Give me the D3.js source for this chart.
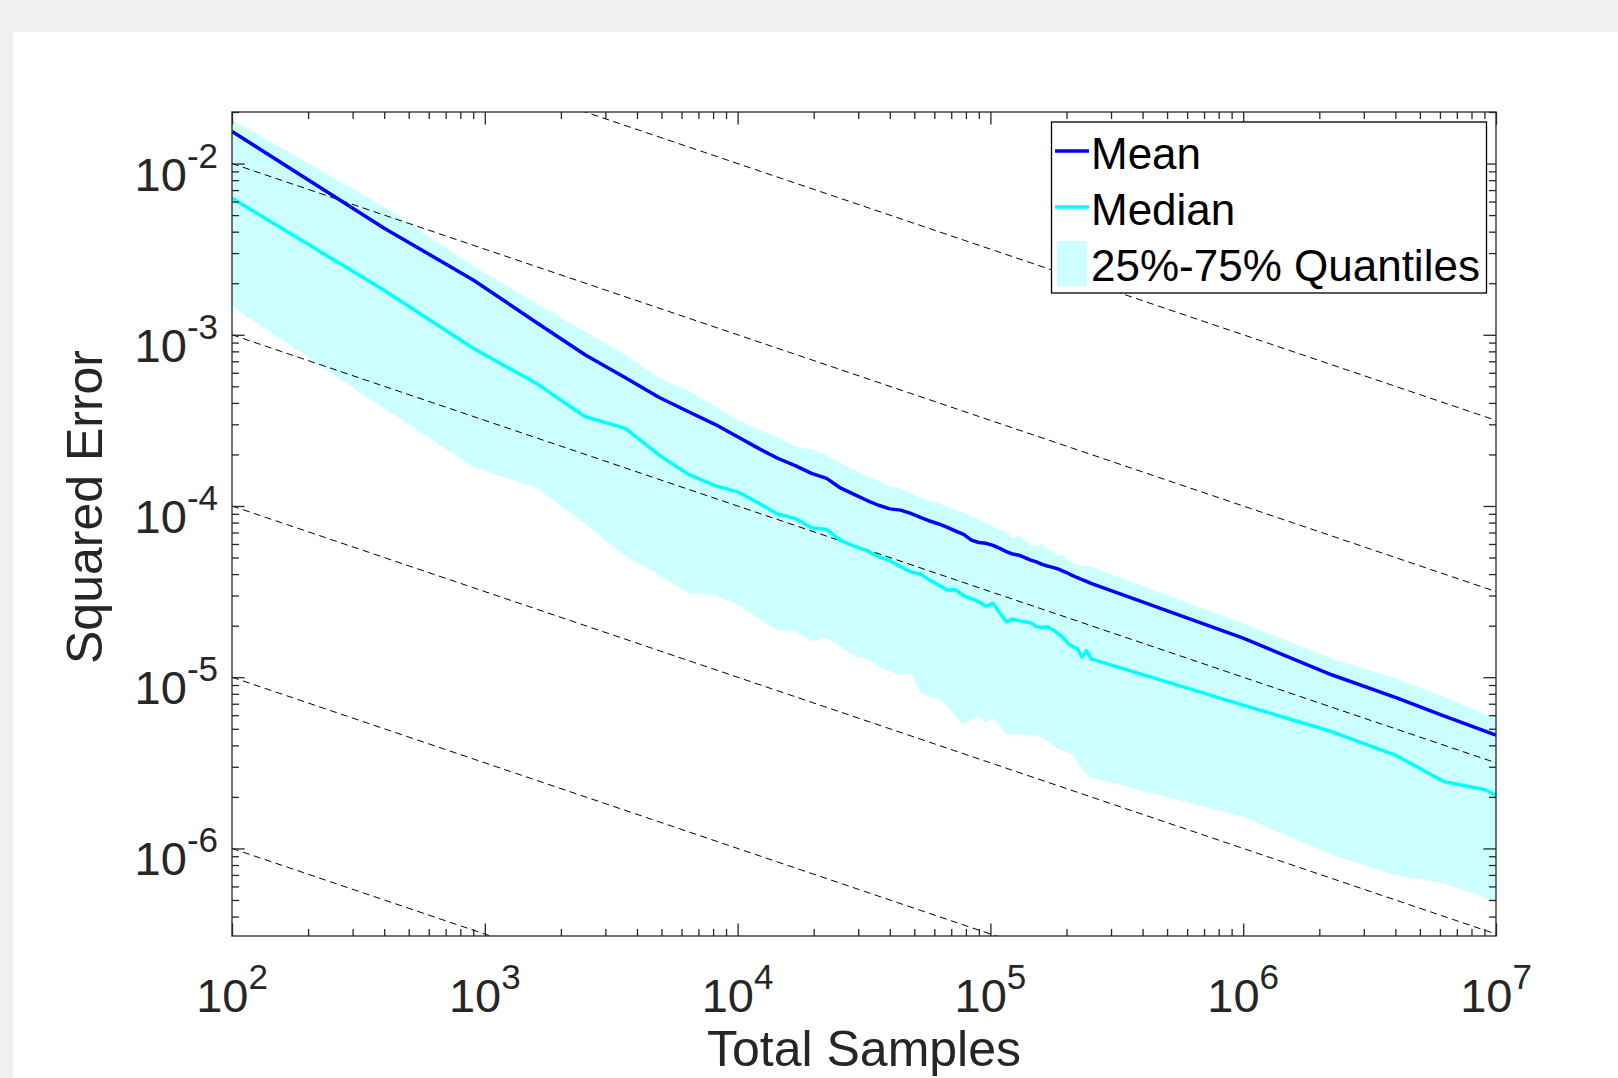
<!DOCTYPE html>
<html>
<head>
<meta charset="utf-8">
<script src="https://cdn.jsdelivr.net/npm/d3@7"></script>
<style>
  html, body { margin: 0; padding: 0; background: #f0f0f0; }
  svg { display: block; }
  text { font-family: "Liberation Sans", Arial, Helvetica, sans-serif; }
</style>
</head>
<body>
<svg id="chart" width="1618" height="1078"></svg>
<script>
// total samples (x) and squared-error statistics
var samples = [100, 400, 900, 1600, 2500, 3600, 4900, 6400, 8100, 10000,
  12100, 14400, 16900, 19600, 22500, 25600, 28900, 32400, 36100, 40000,
  44100, 48400, 52900, 57600, 62500, 67600, 72900, 78400, 84100, 90000,
  96100, 102400, 108900, 115600, 122500, 129600, 136900, 144400, 152100, 160000,
  168100, 176400, 184900, 193600, 202500, 211600, 220900, 230400, 240100, 250000,
  1000000, 2250000, 4000000, 6250000, 9000000, 10000000];

var meanErr = [1.54e-2, 4.19e-3, 2.09e-3, 1.18e-3, 7.62e-4, 5.61e-4, 4.30e-4, 3.55e-4, 3.01e-4, 2.54e-4,
  2.17e-4, 1.90e-4, 1.72e-4, 1.55e-4, 1.45e-4, 1.27e-4, 1.17e-4, 1.08e-4, 1.01e-4, 9.62e-5,
  9.46e-5, 9.06e-5, 8.59e-5, 8.17e-5, 7.85e-5, 7.50e-5, 7.14e-5, 6.82e-5, 6.32e-5, 6.12e-5,
  6.05e-5, 5.89e-5, 5.66e-5, 5.41e-5, 5.24e-5, 5.16e-5, 4.99e-5, 4.83e-5, 4.72e-5, 4.56e-5,
  4.46e-5, 4.38e-5, 4.29e-5, 4.17e-5, 4.05e-5, 3.92e-5, 3.81e-5, 3.72e-5, 3.63e-5, 3.53e-5,
  1.69e-5, 1.03e-5, 7.62e-6, 5.93e-6, 4.86e-6, 4.59e-6];

var medianErr = [6.27e-3, 1.82e-3, 8.34e-4, 5.20e-4, 3.32e-4, 2.84e-4, 1.98e-4, 1.53e-4, 1.32e-4, 1.21e-4,
  1.04e-4, 8.97e-5, 8.47e-5, 7.46e-5, 7.29e-5, 6.27e-5, 5.83e-5, 5.48e-5, 5.06e-5, 4.79e-5,
  4.42e-5, 4.13e-5, 4.00e-5, 3.69e-5, 3.45e-5, 3.23e-5, 3.24e-5, 2.99e-5, 2.88e-5, 2.76e-5,
  2.60e-5, 2.70e-5, 2.38e-5, 2.11e-5, 2.18e-5, 2.14e-5, 2.11e-5, 2.08e-5, 1.97e-5, 1.95e-5,
  1.97e-5, 1.90e-5, 1.80e-5, 1.71e-5, 1.58e-5, 1.51e-5, 1.47e-5, 1.31e-5, 1.43e-5, 1.28e-5,
  6.87e-6, 4.80e-6, 3.51e-6, 2.45e-6, 2.21e-6, 2.05e-6];

var q75Err = [1.81e-2, 5.60e-3, 2.52e-3, 1.53e-3, 1.04e-3, 7.62e-4, 5.57e-4, 4.71e-4, 3.84e-4, 3.18e-4,
  2.81e-4, 2.52e-4, 2.22e-4, 2.14e-4, 1.98e-4, 1.77e-4, 1.62e-4, 1.50e-4, 1.40e-4, 1.29e-4,
  1.27e-4, 1.19e-4, 1.11e-4, 1.07e-4, 1.04e-4, 9.82e-5, 9.46e-5, 9.14e-5, 8.65e-5, 8.36e-5,
  7.98e-5, 7.57e-5, 7.23e-5, 7.08e-5, 6.47e-5, 6.76e-5, 6.32e-5, 5.92e-5, 5.78e-5, 6.05e-5,
  5.58e-5, 5.48e-5, 5.11e-5, 5.16e-5, 4.83e-5, 4.62e-5, 4.52e-5, 4.48e-5, 4.46e-5, 4.42e-5,
  2.06e-5, 1.28e-5, 9.84e-6, 7.69e-6, 6.10e-6, 5.93e-6];

var q25Err = [1.46e-3, 3.72e-4, 1.69e-4, 1.28e-4, 7.85e-5, 5.11e-5, 3.95e-5, 3.09e-5, 3.02e-5, 2.64e-5,
  2.21e-5, 1.88e-5, 1.86e-5, 1.61e-5, 1.70e-5, 1.51e-5, 1.32e-5, 1.29e-5, 1.15e-5, 1.08e-5,
  1.03e-5, 1.06e-5, 8.22e-6, 7.69e-6, 7.52e-6, 6.78e-6, 5.93e-6, 5.30e-6, 5.62e-6, 5.87e-6,
  5.42e-6, 5.75e-6, 5.25e-6, 4.66e-6, 4.66e-6, 4.66e-6, 4.59e-6, 4.59e-6, 4.53e-6, 4.46e-6,
  4.26e-6, 4.02e-6, 3.84e-6, 3.72e-6, 3.62e-6, 3.51e-6, 3.21e-6, 2.90e-6, 2.74e-6, 2.60e-6,
  1.53e-6, 9.14e-7, 6.98e-7, 6.25e-7, 5.18e-7, 4.78e-7];

// dashed guide lines: value at x = 100, slope in log-log
var guideAt100 = [1e-1, 1e-2, 1e-3, 1e-4, 1e-5, 1e-6];
var guideSlope = -0.5;

var xMajor = [1e2, 1e3, 1e4, 1e5, 1e6, 1e7];
var yMajor = [1e-6, 1e-5, 1e-4, 1e-3, 1e-2];
var legendLabels = ["Mean", "Median", "25%-75% Quantiles"];

var axisColor = "#262626",
    meanColor = "#0000ff",
    medianColor = "#00ffff",
    bandColor = "#ccffff";

var plot = {left: 232, right: 1496, top: 112, bottom: 936};

var svg = d3.select("#chart");

// white figure panel on grey window
svg.append("rect")
    .attr("x", 13).attr("y", 32)
    .attr("width", 1618 - 13).attr("height", 1078 - 32)
    .attr("fill", "#ffffff");

var x = d3.scaleLog().domain([1e2, 1e7]).range([plot.left, plot.right]);
var y = d3.scaleLog().domain([3.08e-7, 0.02]).range([plot.bottom, plot.top]);

svg.append("clipPath").attr("id", "clip")
  .append("rect")
    .attr("x", plot.left).attr("y", plot.top)
    .attr("width", plot.right - plot.left)
    .attr("height", plot.bottom - plot.top);

var data = samples.map(function(s, i) {
  return {s: s, mean: meanErr[i], median: medianErr[i], lo: q25Err[i], hi: q75Err[i]};
});

var inner = svg.append("g").attr("clip-path", "url(#clip)");

// quantile band
inner.append("path")
    .datum(data)
    .attr("fill", bandColor)
    .attr("d", d3.area()
      .x(function(d) { return x(d.s); })
      .y0(function(d) { return y(d.lo); })
      .y1(function(d) { return y(d.hi); }));

// reference lines
var xd = x.domain();
inner.selectAll(".guide")
    .data(guideAt100)
  .enter().append("line")
    .attr("class", "guide")
    .attr("x1", x(xd[0]))
    .attr("y1", function(c) { return y(c * Math.pow(xd[0] / 100, guideSlope)); })
    .attr("x2", x(xd[1]))
    .attr("y2", function(c) { return y(c * Math.pow(xd[1] / 100, guideSlope)); })
    .attr("stroke", "#000")
    .attr("stroke-width", 1)
    .attr("stroke-dasharray", "7,4.5");

function seriesLine(key) {
  return d3.line()
    .x(function(d) { return x(d.s); })
    .y(function(d) { return y(d[key]); });
}

inner.append("path")
    .datum(data)
    .attr("fill", "none")
    .attr("stroke", meanColor)
    .attr("stroke-width", 3.5)
    .attr("stroke-linejoin", "round")
    .attr("d", seriesLine("mean"));

inner.append("path")
    .datum(data)
    .attr("fill", "none")
    .attr("stroke", medianColor)
    .attr("stroke-width", 3.5)
    .attr("stroke-linejoin", "round")
    .attr("d", seriesLine("median"));

// ticks on all four sides, pointing inward
var xMinor = x.ticks().filter(function(v) { return xMajor.indexOf(v) < 0; });
var yMinor = y.ticks().filter(function(v) {
  return !yMajor.some(function(m) { return Math.abs(m - v) / m < 1e-9; });
});

function drawTicks(axis, tx, ty, values, len) {
  var g = svg.append("g")
      .attr("transform", "translate(" + tx + "," + ty + ")")
      .call(axis.tickValues(values).tickSize(-len).tickSizeOuter(0).tickFormat(""));
  g.select(".domain").remove();
  g.selectAll("text").remove();
  g.selectAll("line").attr("stroke", axisColor).attr("stroke-width", 1.3);
}

drawTicks(d3.axisBottom(x), 0, plot.bottom, xMajor, 12.6);
drawTicks(d3.axisBottom(x), 0, plot.bottom, xMinor, 7);
drawTicks(d3.axisTop(x), 0, plot.top, xMajor, 12.6);
drawTicks(d3.axisTop(x), 0, plot.top, xMinor, 7);
drawTicks(d3.axisLeft(y), plot.left, 0, yMajor, 12.6);
drawTicks(d3.axisLeft(y), plot.left, 0, yMinor, 7);
drawTicks(d3.axisRight(y), plot.right, 0, yMajor, 12.6);
drawTicks(d3.axisRight(y), plot.right, 0, yMinor, 7);

svg.append("rect")
    .attr("x", plot.left).attr("y", plot.top)
    .attr("width", plot.right - plot.left)
    .attr("height", plot.bottom - plot.top)
    .attr("fill", "none")
    .attr("stroke", axisColor)
    .attr("stroke-width", 1.3);

// tick labels as 10^k
function powerLabel(sel) {
  sel.append("tspan").text("10");
  sel.append("tspan")
      .attr("dy", -23)
      .attr("font-size", 35)
      .text(function(d) { return Math.round(Math.log10(d)); });
}

svg.selectAll(".xlabel")
    .data(xMajor)
  .enter().append("text")
    .attr("class", "xlabel")
    .attr("x", function(d) { return x(d); })
    .attr("y", 1012)
    .attr("text-anchor", "middle")
    .attr("font-size", 47)
    .attr("fill", axisColor)
    .call(powerLabel);

svg.selectAll(".ylabel")
    .data(yMajor)
  .enter().append("text")
    .attr("class", "ylabel")
    .attr("x", 218)
    .attr("y", function(d) { return y(d) + 27; })
    .attr("text-anchor", "end")
    .attr("font-size", 47)
    .attr("fill", axisColor)
    .call(powerLabel);

svg.append("text")
    .attr("x", (plot.left + plot.right) / 2)
    .attr("y", 1066)
    .attr("text-anchor", "middle")
    .attr("font-size", 50)
    .attr("fill", axisColor)
    .text("Total Samples");

svg.append("text")
    .attr("transform", "translate(102,507) rotate(-90)")
    .attr("text-anchor", "middle")
    .attr("font-size", 50)
    .attr("fill", axisColor)
    .text("Squared Error");

// legend
var legend = svg.append("g");
legend.append("rect")
    .attr("x", 1051.5).attr("y", 122)
    .attr("width", 435).attr("height", 171)
    .attr("fill", "#fff")
    .attr("stroke", "#000")
    .attr("stroke-width", 1.3);

var rowY = [151, 207, 263];
[meanColor, medianColor].forEach(function(c, i) {
  legend.append("line")
      .attr("x1", 1055).attr("x2", 1089)
      .attr("y1", rowY[i]).attr("y2", rowY[i])
      .attr("stroke", c)
      .attr("stroke-width", 3.5);
});
legend.append("rect")
    .attr("x", 1057).attr("y", rowY[2] - 22)
    .attr("width", 30).attr("height", 45)
    .attr("fill", bandColor);

legend.selectAll(".ltext")
    .data(legendLabels)
  .enter().append("text")
    .attr("class", "ltext")
    .attr("x", 1091)
    .attr("y", function(d, i) { return rowY[i] + 18; })
    .attr("font-size", 44)
    .attr("fill", "#000")
    .text(function(d) { return d; });
</script>
</body>
</html>
